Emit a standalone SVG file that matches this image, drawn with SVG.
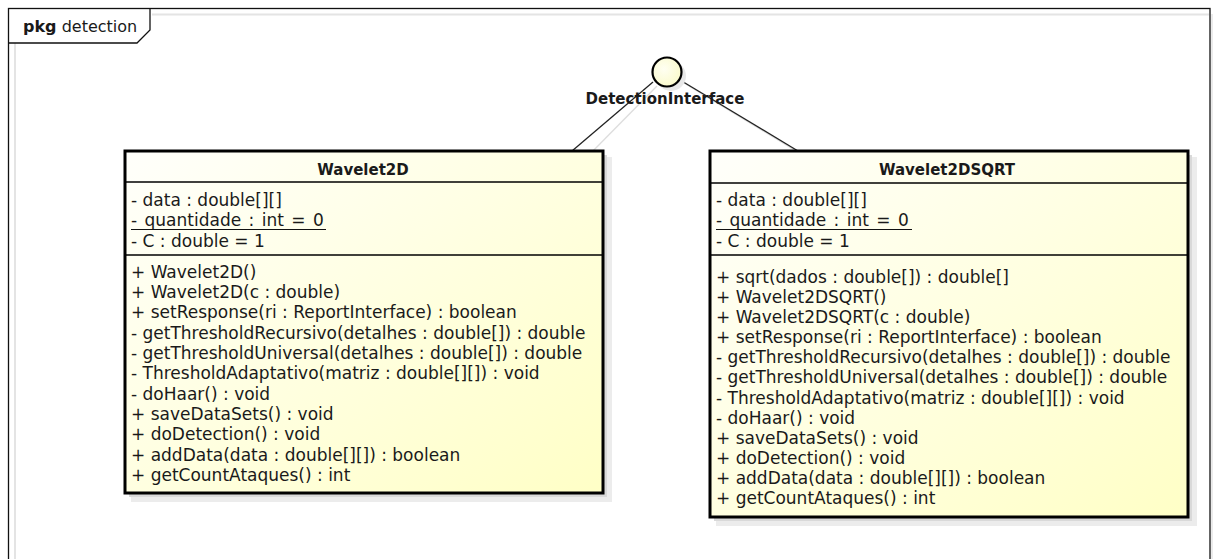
<svg xmlns="http://www.w3.org/2000/svg" width="1213" height="559" viewBox="0 0 1213 559">
<defs>
<linearGradient id="g" x1="0" y1="0" x2="1" y2="1">
<stop offset="0" stop-color="#fffffb"/>
<stop offset="1" stop-color="#ffffc6"/>
</linearGradient>
<radialGradient id="gc" cx="0.4" cy="0.4" r="0.7">
<stop offset="0" stop-color="#fffff2"/>
<stop offset="1" stop-color="#fafac8"/>
</radialGradient>
</defs>
<style>
text{font-family:"DejaVu Sans","Liberation Sans",sans-serif;fill:#1a1a1a}
.m{font-size:17px}
.h{font-size:15px;font-weight:bold}
.box{fill:url(#g);stroke:#000;stroke-width:3}
.sh{fill:#d9d9d9}
.sh2{fill:#ececec}
.sep{stroke:#000;stroke-width:1.5}
.ln{stroke:#222;stroke-width:1.3;fill:none}
.lns{stroke:#ddd;stroke-width:1.3;fill:none}
</style>
<rect width="1213" height="559" fill="#fff"/>
<g id="frame">
<line x1="15" y1="43" x2="15" y2="559" stroke="#e4e4e4" stroke-width="2"/>
<line x1="152" y1="14.5" x2="1209" y2="14.5" stroke="#e4e4e4" stroke-width="2"/>
<line x1="1212" y1="14" x2="1212" y2="559" stroke="#e4e4e4" stroke-width="1.5"/>
<rect x="8.5" y="8.5" width="1201.5" height="560" fill="none" stroke="#111" stroke-width="1.3"/>
<path d="M8.5 43 H137 L150 30 V8.5" fill="none" stroke="#111" stroke-width="1.3"/>
<text x="23" y="32" style="font-size:16px"><tspan font-weight="bold">pkg</tspan> detection</text>
</g>
<g id="connectors">
<line class="lns" x1="657" y1="86" x2="588" y2="156"/>
<line class="lns" x1="684" y1="83" x2="806" y2="157"/>
<line class="ln" x1="653" y1="82" x2="572" y2="151"/>
<line class="ln" x1="680" y1="80" x2="798" y2="151"/>
</g>
<g id="DetectionInterface">
<circle cx="671" cy="76" r="15" fill="#e8e8e8"/>
<circle cx="667" cy="72" r="14.5" fill="url(#gc)" stroke="#000" stroke-width="2.2"/>
<text x="665" y="104" text-anchor="middle" class="h">DetectionInterface</text>
</g>
<g id="Wavelet2D">
<rect class="sh2" x="131" y="157" width="481" height="345"/>
<rect class="sh" x="129" y="155" width="478" height="342"/>
<rect class="box" x="125" y="151" width="478" height="342"/>
<line class="sep" x1="125" y1="182" x2="603" y2="182"/>
<line class="sep" x1="125" y1="255" x2="603" y2="255"/>
<text x="363" y="175" text-anchor="middle" class="h">Wavelet2D</text>
<text x="131" y="206" class="m">- data : double[][]</text>
<text x="131" y="226" class="m" word-spacing="2">- quantidade : int = 0</text>
<line x1="131" y1="229.5" x2="326" y2="229.5" stroke="#111" stroke-width="1"/>
<text x="131" y="247" class="m">- C : double = 1</text>
<text x="131" y="278" class="m">+ Wavelet2D()</text>
<text x="131" y="298" class="m">+ Wavelet2D(c : double)</text>
<text x="131" y="318" class="m">+ setResponse(ri : ReportInterface) : boolean</text>
<text x="131" y="339" class="m">- getThresholdRecursivo(detalhes : double[]) : double</text>
<text x="131" y="359" class="m">- getThresholdUniversal(detalhes : double[]) : double</text>
<text x="131" y="379" class="m">- ThresholdAdaptativo(matriz : double[][]) : void</text>
<text x="131" y="400" class="m">- doHaar() : void</text>
<text x="131" y="420" class="m">+ saveDataSets() : void</text>
<text x="131" y="440" class="m">+ doDetection() : void</text>
<text x="131" y="461" class="m">+ addData(data : double[][]) : boolean</text>
<text x="131" y="481" class="m">+ getCountAtaques() : int</text>
</g>
<g id="Wavelet2DSQRT">
<rect class="sh2" x="716" y="157" width="481" height="369"/>
<rect class="sh" x="714" y="155" width="478" height="366"/>
<rect class="box" x="710" y="151" width="478" height="366"/>
<line class="sep" x1="710" y1="183" x2="1188" y2="183"/>
<line class="sep" x1="710" y1="255" x2="1188" y2="255"/>
<text x="947" y="175" text-anchor="middle" class="h">Wavelet2DSQRT</text>
<text x="716" y="206" class="m">- data : double[][]</text>
<text x="716" y="226" class="m" word-spacing="2">- quantidade : int = 0</text>
<line x1="716" y1="229.5" x2="912" y2="229.5" stroke="#111" stroke-width="1"/>
<text x="716" y="247" class="m">- C : double = 1</text>
<text x="716" y="283" class="m">+ sqrt(dados : double[]) : double[]</text>
<text x="716" y="303" class="m">+ Wavelet2DSQRT()</text>
<text x="716" y="323" class="m">+ Wavelet2DSQRT(c : double)</text>
<text x="716" y="343" class="m">+ setResponse(ri : ReportInterface) : boolean</text>
<text x="716" y="363" class="m">- getThresholdRecursivo(detalhes : double[]) : double</text>
<text x="716" y="383" class="m">- getThresholdUniversal(detalhes : double[]) : double</text>
<text x="716" y="404" class="m">- ThresholdAdaptativo(matriz : double[][]) : void</text>
<text x="716" y="424" class="m">- doHaar() : void</text>
<text x="716" y="444" class="m">+ saveDataSets() : void</text>
<text x="716" y="464" class="m">+ doDetection() : void</text>
<text x="716" y="484" class="m">+ addData(data : double[][]) : boolean</text>
<text x="716" y="504" class="m">+ getCountAtaques() : int</text>
</g>
</svg>
